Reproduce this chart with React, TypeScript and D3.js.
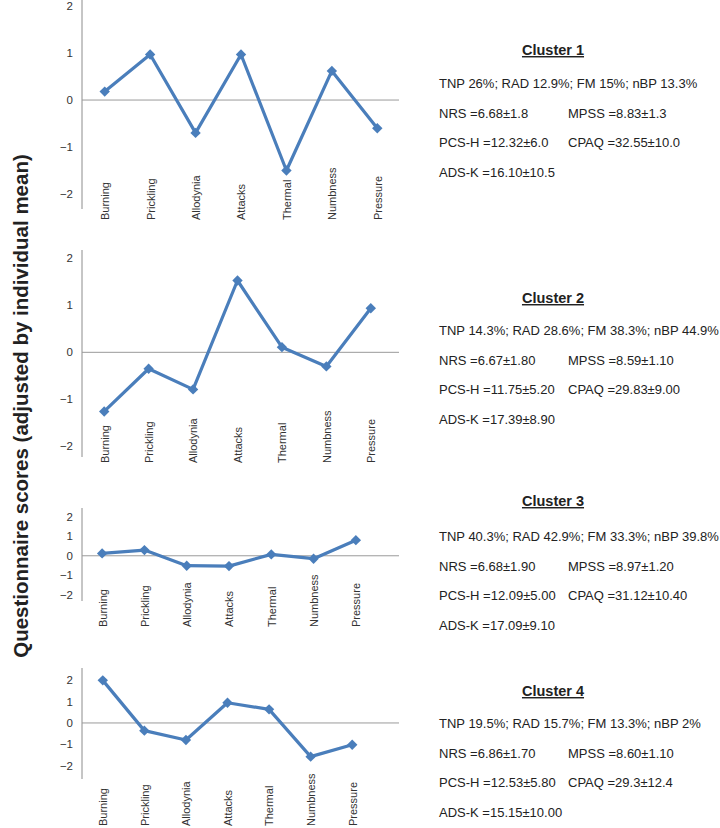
import React from 'react'
import * as d3 from 'd3'

// data
const categories = ['Burning', 'Prickling', 'Allodynia', 'Attacks', 'Thermal', 'Numbness', 'Pressure']
const cluster1 = [0.18, 0.97, -0.7, 0.97, -1.5, 0.62, -0.6]
const cluster2 = [-1.26, -0.35, -0.79, 1.53, 0.11, -0.3, 0.94]
const cluster3 = [0.12, 0.29, -0.51, -0.53, 0.07, -0.15, 0.8]
const cluster4 = [2.0, -0.36, -0.8, 0.95, 0.64, -1.58, -1.02]
const yTicks = [-2, -1, 0, 1, 2]

const clusterTitles = ['Cluster 1', 'Cluster 2', 'Cluster 3', 'Cluster 4']
const groupLines = [
  'TNP 26%; RAD 12.9%; FM 15%; nBP 13.3%',
  'TNP 14.3%; RAD 28.6%; FM 38.3%; nBP 44.9%',
  'TNP 40.3%; RAD 42.9%; FM 33.3%; nBP 39.8%',
  'TNP 19.5%; RAD 15.7%; FM 13.3%; nBP 2%',
]
const nrs = ['NRS =6.68±1.8', 'NRS =6.67±1.80', 'NRS =6.68±1.90', 'NRS =6.86±1.70']
const mpss = ['MPSS =8.83±1.3', 'MPSS =8.59±1.10', 'MPSS =8.97±1.20', 'MPSS =8.60±1.10']
const pcs = ['PCS-H =12.32±6.0', 'PCS-H =11.75±5.20', 'PCS-H =12.09±5.00', 'PCS-H =12.53±5.80']
const cpaq = ['CPAQ =32.55±10.0', 'CPAQ =29.83±9.00', 'CPAQ =31.12±10.40', 'CPAQ =29.3±12.4']
const ads = ['ADS-K =16.10±10.5', 'ADS-K =17.39±8.90', 'ADS-K =17.09±9.10', 'ADS-K =15.15±10.00']

const seriesList = [cluster1, cluster2, cluster3, cluster4]

// layout of each small panel (pixels)
const panels = [
  { domain: [-2.32, 2.13], yRange: [209, 0], xRange: [82, 400], labelBase: 220, title: 55, first: 88 },
  { domain: [-2.23, 2.18], yRange: [457, 250], xRange: [82, 393], labelBase: 463, title: 303, first: 335 },
  { domain: [-2.32, 2.45], yRange: [601, 508], xRange: [81, 377], labelBase: 627, title: 506, first: 541 },
  { domain: [-2.63, 2.58], yRange: [779, 668], xRange: [82, 373], labelBase: 826, title: 696, first: 728 },
]

const BLUE = '#4A7EBB'
const FONT = '"Liberation Sans", Arial, sans-serif'
const axisX = 82
const zeroEnd = 399
const textX = 439
const col2X = 568
const lineGap = 29.5

const diamond = d3.symbol(d3.symbolSquare, 54)()

function Panel({ values, p }) {
  const x = d3.scalePoint().domain(categories).range(p.xRange).padding(0.5)
  const y = d3.scaleLinear().domain(p.domain).range(p.yRange)
  const line = d3
    .line<number>()
    .x((d, i) => x(categories[i]))
    .y((d) => y(d))

  return (
    <g>
      <line x1={axisX} x2={axisX} y1={y(p.domain[0])} y2={y(p.domain[1])} stroke="#8c8c8c" strokeWidth={1} />
      <line x1={axisX} x2={zeroEnd} y1={y(0)} y2={y(0)} stroke="#9a9a9a" strokeWidth={1} />
      {yTicks.map((t) => (
        <text key={t} x={axisX - 9} y={y(t)} dy="0.35em" textAnchor="end" fontSize={11.5} fill="#333">
          {t < 0 ? '\u2212' + Math.abs(t) : t}
        </text>
      ))}
      {categories.map((c) => (
        <text
          key={c}
          transform={`translate(${x(c) + 0.5},${p.labelBase}) rotate(-90)`}
          dy="0.35em"
          fontSize={11}
          fill="#333"
        >
          {c}
        </text>
      ))}
      <path d={line(values)} fill="none" stroke={BLUE} strokeWidth={3.2} strokeLinejoin="round" />
      {values.map((v, i) => (
        <path key={i} d={diamond} transform={`translate(${x(categories[i])},${y(v)}) rotate(45)`} fill={BLUE} />
      ))}
    </g>
  )
}

export default function App() {
  return (
    <svg
      width={720}
      height={828}
      style={{ position: 'absolute', left: 0, top: 0, background: '#fff' }}
      fontFamily={FONT}
    >
      <rect width={720} height={828} fill="#fff" />
      <text
        transform="translate(28,406) rotate(-90)"
        textAnchor="middle"
        fontSize={20.5}
        fontWeight="bold"
        fill="#222"
      >
        Questionnaire scores (adjusted by individual mean)
      </text>
      {panels.map((p, k) => (
        <g key={k}>
          <Panel values={seriesList[k]} p={p} />
          <text x={553} y={p.title} textAnchor="middle" fontSize={14.5} fontWeight="bold" textDecoration="underline" fill="#222">
            {clusterTitles[k]}
          </text>
          <g fontSize={13} fill="#222">
            <text x={textX} y={p.first}>{groupLines[k]}</text>
            <text x={textX} y={p.first + lineGap}>{nrs[k]}</text>
            <text x={col2X} y={p.first + lineGap}>{mpss[k]}</text>
            <text x={textX} y={p.first + lineGap * 2}>{pcs[k]}</text>
            <text x={col2X} y={p.first + lineGap * 2}>{cpaq[k]}</text>
            <text x={textX} y={p.first + lineGap * 3}>{ads[k]}</text>
          </g>
        </g>
      ))}
    </svg>
  )
}
